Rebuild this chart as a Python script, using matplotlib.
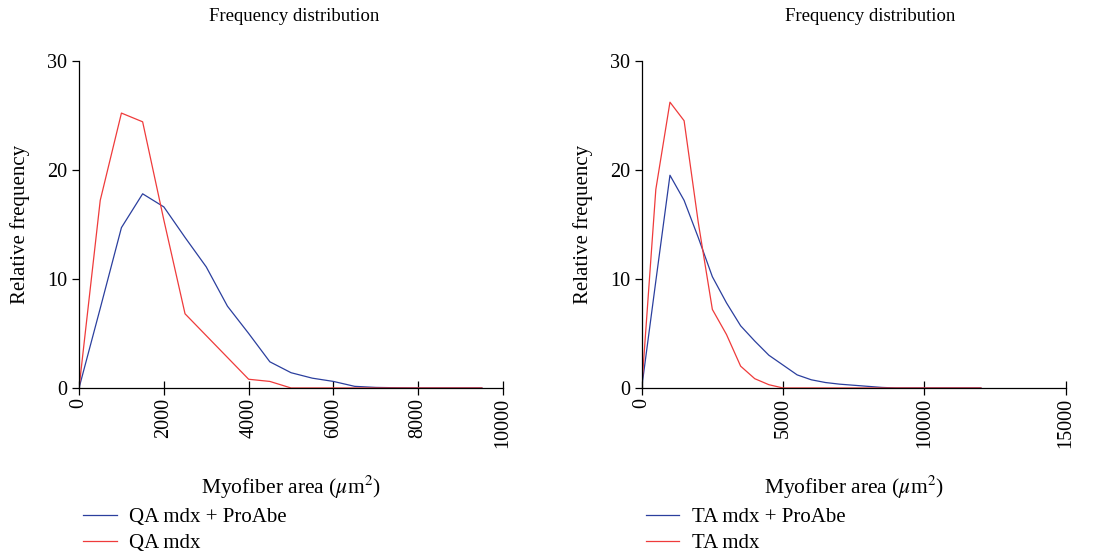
import matplotlib.pyplot as plt

# left panel: QA
qa_x = [0, 500, 1000, 1500, 2000, 2500, 3000, 3500, 4000, 4500, 5000, 5500,
        6000, 6500, 7000, 7500, 8000, 8500, 9000, 9500]
qa_proabe = [0, 7.3, 14.7, 17.8, 16.6, 13.8, 11.1, 7.5, 5.0, 2.4, 1.4, 0.9,
             0.6, 0.15, 0.05, 0.02, 0, 0, 0, 0]
qa_mdx = [0, 17.2, 25.2, 24.4, 15.4, 6.8, 4.8, 2.8, 0.8, 0.6, 0, 0,
          0, 0, 0, 0, 0, 0, 0, 0]

# right panel: TA
ta_x = [0, 500, 1000, 1500, 2000, 2500, 3000, 3500, 4000, 4500, 5000, 5500,
        6000, 6500, 7000, 7500, 8000, 8500, 9000, 9500, 10000, 10500, 11000,
        11500, 12000]
ta_proabe = [0, 9.8, 19.5, 17.2, 13.8, 10.2, 7.8, 5.7, 4.3, 3.0, 2.1, 1.2,
             0.75, 0.5, 0.35, 0.25, 0.15, 0.05, 0, 0, 0, 0, 0, 0, 0]
ta_mdx = [0, 18.2, 26.2, 24.5, 15.2, 7.2, 4.9, 2.0, 0.85, 0.3, 0, 0,
          0, 0, 0, 0, 0, 0, 0, 0, 0, 0, 0, 0, 0]

BLUE = "#2b3f9e"
RED = "#ef3b3b"

plt.rcParams["font.family"] = ["Liberation Serif", "DejaVu Serif"]
plt.rcParams["mathtext.fontset"] = "stix"

fig = plt.figure(figsize=(11.1, 5.56), dpi=100)

panels = [
    (0.0712, qa_x, qa_proabe, qa_mdx, [0, 2000, 4000, 6000, 8000, 10000], 10000,
     "QA mdx + ProAbe", "QA mdx", 0.265),
    (0.5781, ta_x, ta_proabe, ta_mdx, [0, 5000, 10000, 15000], 15000,
     "TA mdx + ProAbe", "TA mdx", 0.784),
]

for left, x, proabe, mdx, xticks, xmax, lab1, lab2, title_x in panels:
    ax = fig.add_axes([left, 0.3022, 0.382, 0.5886])
    l1, = ax.plot(x, proabe, color=BLUE, lw=0.9)
    l2, = ax.plot(x, mdx, color=RED, lw=0.9)
    ax.set_xlim(0, xmax)
    ax.set_ylim(0, 30)
    ax.set_yticks([0, 10, 20, 30])
    ax.set_xticks(xticks)
    ax.set_xticklabels([str(t) for t in xticks], rotation=90)
    ax.spines["top"].set_visible(False)
    ax.spines["right"].set_visible(False)
    for s in ("left", "bottom"):
        ax.spines[s].set_linewidth(0.9)
    ax.tick_params(labelsize=14.5, length=5, width=0.9)
    ax.tick_params(axis="x", direction="inout", length=10, pad=2)
    ax.set_ylabel("Relative frequency", fontsize=15, labelpad=12)
    ax.set_xlabel(r"Myofiber area ($\mu$m$^2$)", fontsize=15.5, labelpad=19)
    fig.text(title_x, 0.970, "Frequency distribution", ha="center", va="center",
             fontsize=13.5)
    ax.legend([l1, l2], [lab1, lab2], loc="upper left",
              bbox_to_anchor=(0.01, -0.366), frameon=False, fontsize=15,
              handlelength=1.6, handletextpad=0.6, labelspacing=0.3,
              borderpad=0, borderaxespad=0)

fig.savefig("out.png", dpi=100)
